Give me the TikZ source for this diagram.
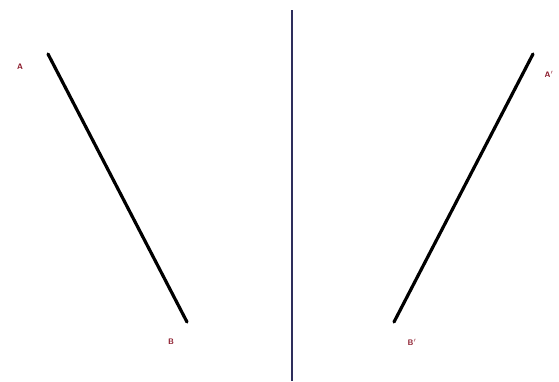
\documentclass[tikz,border=0pt]{standalone}
\usepackage{tikz}
\usetikzlibrary{positioning}
\definecolor{labelred}{HTML}{8B1A2B}
\definecolor{mirrorblue}{HTML}{2E2E5C}

\begin{document}
\begin{tikzpicture}[x=1pt, y=-1pt,
    seg/.style={line width=3.2pt, color=black, line cap=round},
    mirror/.style={line width=1.2pt, color=mirrorblue},
    lbl/.style={text=labelred, font=\sffamily\bfseries\fontsize{8}{8}\selectfont, inner sep=0pt}
  ]
  \useasboundingbox (0,0) rectangle (559,381);

  % mirror line
  \coordinate (mtop) at (292,10);
  \coordinate (mbot) at (292,381);
  \draw[mirror] (mtop) -- (mbot);

  % original segment
  \coordinate (a) at (48,54);
  \coordinate (b) at (187,322);
  \draw[seg] (a) -- (b);
  \node[lbl] (la) at (20,67) {A};
  \node[lbl] (lb) at (171,342) {B};

  % reflected segment
  \coordinate (a1) at (533,54);
  \coordinate (b1) at (394,322);
  \draw[seg] (a1) -- (b1);
  \node[lbl] (la1) at (549,74) {A$'$};
  \node[lbl] (lb1) at (412,342) {B$'$};
\end{tikzpicture}
\end{document}
